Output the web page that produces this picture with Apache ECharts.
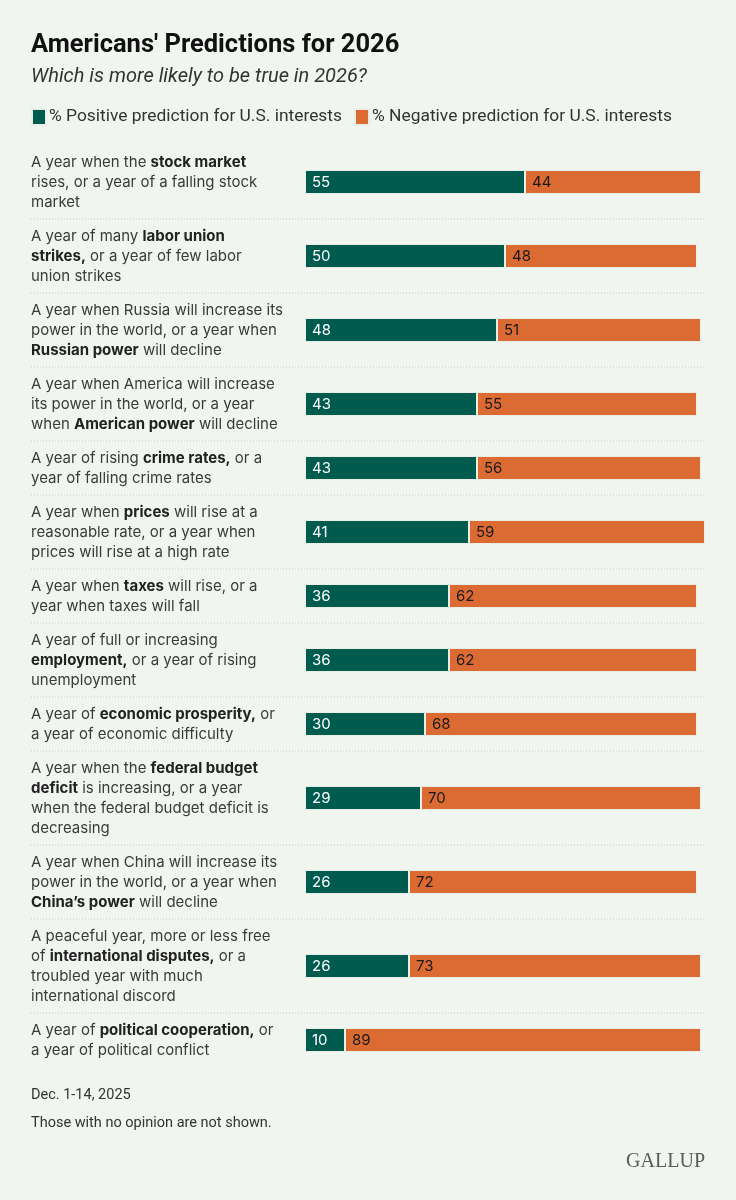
<!DOCTYPE html>
<html><head><meta charset="utf-8">
<script src="https://cdn.jsdelivr.net/npm/echarts@6/dist/echarts.min.js"></script>
<style>html,body{margin:0;padding:0;background:#f0f6ef}#c{width:736px;height:1200px}</style>
</head><body><div id="c"></div>
<script>
const chartTitle = "Americans' Predictions for 2026";
const subtitle = "Which is more likely to be true in 2026?";
const seriesNames = ['% Positive prediction for U.S. interests', '% Negative prediction for U.S. interests'];
const questions = [
  "A year when the **stock market**\nrises, or a year of a falling stock\nmarket",
  "A year of many **labor union**\n**strikes,** or a year of few labor\nunion strikes",
  "A year when Russia will increase its\npower in the world, or a year when\n**Russian power** will decline",
  "A year when America will increase\nits power in the world, or a year\nwhen **American power** will decline",
  "A year of rising **crime rates,** or a\nyear of falling crime rates",
  "A year when **prices** will rise at a\nreasonable rate, or a year when\nprices will rise at a high rate",
  "A year when **taxes** will rise, or a\nyear when taxes will fall",
  "A year of full or increasing\n**employment,** or a year of rising\nunemployment",
  "A year of **economic prosperity,** or\na year of economic difficulty",
  "A year when the **federal budget**\n**deficit** is increasing, or a year\nwhen the federal budget deficit is\ndecreasing",
  "A year when China will increase its\npower in the world, or a year when\n**China\u2019s power** will decline",
  "A peaceful year, more or less free\nof **international disputes,** or a\ntroubled year with much\ninternational discord",
  "A year of **political cooperation,** or\na year of political conflict"
];
const positive = [55, 50, 48, 43, 43, 41, 36, 36, 30, 29, 26, 26, 10];
const negative = [44, 48, 51, 55, 56, 59, 62, 62, 68, 70, 72, 73, 89];
const footDate = "Dec. 1-14, 2025";
const footNote = "Those with no opinion are not shown.";
const brand = "GALLUP";

const GREEN = '#005b4f', ORANGE = '#db6a33', BG = '#f0f6ef';
const FONT = 'Inter';
const chart = echarts.init(document.getElementById('c'), null, {renderer: 'canvas'});

function toRich(s) {
  return s.split('**').map((p, i) => i % 2 ? '{b|' + p + '}' : p).join('');
}

const grids = [], xAxes = [], yAxes = [], series = [], graphics = [];
let rowTop = 145;
questions.forEach((q, i) => {
  const lines = q.split('\n').length;
  const h = lines * 20 + 14;
  grids.push({left: 305, width: 400, top: rowTop, height: h});
  xAxes.push({gridIndex: i, type: 'value', min: 0, max: 100, show: false});
  yAxes.push({
    gridIndex: i, type: 'category', data: [q],
    axisLine: {show: false}, axisTick: {show: false}, splitLine: {show: false},
    axisLabel: {
      align: 'left', margin: 274, fontFamily: FONT, fontSize: 15, color: '#3a3a3a', lineHeight: 20,
      formatter: v => toRich(v),
      rich: {b: {fontFamily: FONT, fontSize: 15, fontWeight: 'bold', color: '#222', lineHeight: 20}}
    }
  });
  [positive, negative].forEach((arr, k) => {
    series.push({
      type: 'bar', name: seriesNames[k], xAxisIndex: i, yAxisIndex: i, stack: 'row' + i,
      barWidth: 24, data: [arr[i]],
      itemStyle: {color: k ? ORANGE : GREEN, borderColor: '#e9efe6', borderWidth: 1},
      label: {show: true, position: 'insideLeft', distance: 7, fontFamily: FONT, fontSize: 15,
              color: k ? '#1a1a1a' : '#ffffff'},
      emphasis: {disabled: true}, animation: false
    });
  });
  rowTop += h;
  if (i < questions.length - 1) {
    graphics.push({type: 'line', shape: {x1: 31, y1: rowTop, x2: 705, y2: rowTop},
      style: {stroke: '#c6ccc4', lineWidth: 1, lineDash: [1, 2]}, silent: true});
  }
});

chart.setOption({
  backgroundColor: BG,
  animation: false,
  title: [
    {text: chartTitle, left: 31, top: 33, itemGap: 8, padding: 0,
     textStyle: {fontFamily: 'Roboto', fontSize: 25.5, fontWeight: 'bold', color: '#111'},
     subtext: subtitle,
     subtextStyle: {fontFamily: 'Roboto', fontSize: 20, fontStyle: 'italic', color: '#333'}},
    {text: footDate, left: 31, top: 1088, padding: 0, textStyle: {fontFamily: 'Roboto', fontSize: 14.5, fontWeight: 'normal', color: '#333'}},
    {text: footNote, left: 31, top: 1116, padding: 0, textStyle: {fontFamily: 'Roboto', fontSize: 14.5, fontWeight: 'normal', color: '#333'}},
    {text: brand, right: 31, top: 1152, padding: 0, textStyle: {fontFamily: 'Liberation Serif', fontSize: 20, fontWeight: 'normal', color: '#5a5a5a'}}
  ],
  legend: {
    left: 31, top: 108, padding: 0, itemWidth: 14, itemHeight: 16, itemGap: 12, icon: 'rect',
    data: seriesNames, selectedMode: false,
    textStyle: {fontFamily: 'Roboto', fontSize: 17.4, color: '#333', padding: [0, 0, 0, -2]}
  },
  grid: grids, xAxis: xAxes, yAxis: yAxes, series: series,
  graphic: graphics
});
</script></body></html>
